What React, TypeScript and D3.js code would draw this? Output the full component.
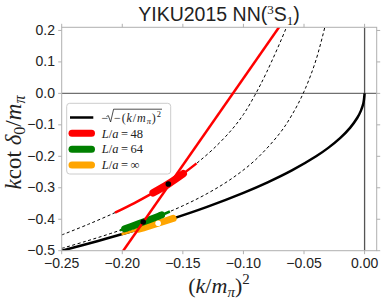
import * as d3 from "d3";

// axis ticks
const xTicks = [-0.25, -0.2, -0.15, -0.1, -0.05, 0];
const xTickLabels = ["−0.25", "−0.20", "−0.15", "−0.10", "−0.05", "0.00"];
const yTicks = [0.2, 0.1, 0, -0.1, -0.2, -0.3, -0.4, -0.5];
const yTickLabels = ["0.2", "0.1", "0.0", "−0.1", "−0.2", "−0.3", "−0.4", "−0.5"];

// -sqrt(-(k/m)^2), infinite volume
const infK2 = [-0.25, -0.22, -0.19, -0.16, -0.13, -0.1, -0.08, -0.06, -0.04, -0.03, -0.02, -0.012, -0.006, -0.003, -0.001, 0];
const infKcot = [-0.5, -0.469, -0.436, -0.4, -0.3606, -0.3162, -0.2828, -0.2449, -0.2, -0.1732, -0.1414, -0.1095, -0.0775, -0.0548, -0.0316, 0];

// dashed finite volume curves
const l48K2 = [-0.25, -0.228, -0.206, -0.19, -0.175, -0.162, -0.15, -0.1387, -0.125, -0.11, -0.1, -0.0906, -0.081, -0.0645, -0.058];
const l48Kcot = [-0.45, -0.416, -0.379, -0.3486, -0.317, -0.288, -0.256, -0.2225, -0.177, -0.117, -0.067, -0.006, 0.066, 0.21, 0.28];
const l64K2 = [-0.25, -0.23, -0.21, -0.19, -0.17, -0.15, -0.13, -0.11, -0.09, -0.07, -0.06, -0.05, -0.04, -0.03];
const l64Kcot = [-0.4926, -0.47, -0.4458, -0.4194, -0.3902, -0.3572, -0.3186, -0.2717, -0.211, -0.1267, -0.0688, 0.0057, 0.1073, 0.2551];

// effective range fit line
const ereK2 = [-0.202, -0.068];
const ereKcot = [-0.5155, 0.2247];

// L/a = 48 segment
const red48K2 = [-0.206, -0.19, -0.175, -0.162, -0.15, -0.1387];
const red48Kcot = [-0.379, -0.3486, -0.317, -0.288, -0.256, -0.2225];
const red48BandK2 = [-0.1745, -0.162, -0.1497];
const red48BandKcot = [-0.316, -0.288, -0.2555];
const red48Dot = [-0.162, -0.288];

// L/a = 64 segment
const green64K2 = [-0.2019, -0.19, -0.1827, -0.17, -0.1607];
const green64Kcot = [-0.4354, -0.4194, -0.409, -0.3902, -0.3754];
const green64BandK2 = [-0.198, -0.19, -0.1827, -0.17, -0.1676];
const green64BandKcot = [-0.4303, -0.4194, -0.409, -0.3902, -0.3865];
const green64Dot = [-0.1827, -0.409];

// L/a = inf segment
const orangeK2 = [-0.2006, -0.19, -0.18, -0.17, -0.1566];
const orangeKcot = [-0.4479, -0.4359, -0.4243, -0.4123, -0.3957];
const orangeBandK2 = [-0.1865, -0.18, -0.1704, -0.158];
const orangeBandKcot = [-0.4319, -0.4243, -0.4128, -0.3975];
const orangeDot = [-0.1704, -0.4128];

const W = 382;
const H = 301;
const left = 61.7;
const right = 376.7;
const top = 27.3;
const bottom = 250.7;

const x = d3.scaleLinear().domain([-0.25, 0.01]).range([left, right]);
const y = d3.scaleLinear().domain([-0.5, 0.21]).range([bottom, top]);

const pts = (xs: number[], ys: number[]) => xs.map((v, i) => [v, ys[i]] as [number, number]);
const curve = d3
  .line<[number, number]>()
  .x(d => x(d[0]))
  .y(d => y(d[1]))
  .curve(d3.curveCatmullRom);
const straight = d3
  .line<[number, number]>()
  .x(d => x(d[0]))
  .y(d => y(d[1]));

const spine = "#b0b0b0";
const textCol = "#222";
const serif = "'Liberation Serif', serif";
const sans = "'Liberation Sans', Arial, sans-serif";

const legendRows = [
  { color: "#ff0000", label: "48" },
  { color: "#008000", label: "64" },
  { color: "#ffa500", label: "∞" },
];

export default function App() {
  return (
    <svg width={W} height={H} style={{ position: "absolute", left: 0, top: 0 }} fontFamily={sans}>
      <defs>
        <clipPath id="plot">
          <rect x={left} y={top} width={right - left} height={bottom - top} />
        </clipPath>
      </defs>
      <rect width={W} height={H} fill="#fff" />

      {/* title */}
      <text x={219} y={21} textAnchor="middle" fontSize={19.5} fill={textCol}>
        YIKU2015 NN(
        <tspan fontSize={13} dy={-7} fontFamily={serif}>3</tspan>
        <tspan dy={7}>S</tspan>
        <tspan fontSize={13} dy={4} fontFamily={serif}>1</tspan>
        <tspan dy={-4}>)</tspan>
      </text>

      <g clipPath="url(#plot)">
        <line x1={left} x2={right} y1={y(0)} y2={y(0)} stroke="#707070" strokeWidth={1.4} />
        <line x1={x(0)} x2={x(0)} y1={top} y2={bottom} stroke="#555" strokeWidth={1.3} />

        <path d={curve(pts(l48K2, l48Kcot)) ?? ""} fill="none" stroke="#000" strokeWidth={1} strokeDasharray="3,2.5" />
        <path d={curve(pts(l64K2, l64Kcot)) ?? ""} fill="none" stroke="#000" strokeWidth={1} strokeDasharray="3,2.5" />
        <path d={curve(pts(infK2, infKcot)) ?? ""} fill="none" stroke="#000" strokeWidth={2.5} />

        <path d={curve(pts(orangeK2, orangeKcot)) ?? ""} fill="none" stroke="#ffa500" strokeWidth={2.5} />
        <path d={curve(pts(orangeBandK2, orangeBandKcot)) ?? ""} fill="none" stroke="#ffa500" strokeWidth={7} strokeLinecap="round" />
        <path d={curve(pts(green64K2, green64Kcot)) ?? ""} fill="none" stroke="#008000" strokeWidth={2.5} />
        <path d={curve(pts(green64BandK2, green64BandKcot)) ?? ""} fill="none" stroke="#008000" strokeWidth={7} strokeLinecap="round" />
        <path d={curve(pts(red48K2, red48Kcot)) ?? ""} fill="none" stroke="#ff0000" strokeWidth={2.5} />
        <path d={curve(pts(red48BandK2, red48BandKcot)) ?? ""} fill="none" stroke="#ff0000" strokeWidth={7.5} strokeLinecap="round" />
        <path d={straight(pts(ereK2, ereKcot)) ?? ""} fill="none" stroke="#ff0000" strokeWidth={2.5} />

        <circle cx={x(red48Dot[0])} cy={y(red48Dot[1])} r={2.8} fill="#000" />
        <circle cx={x(green64Dot[0])} cy={y(green64Dot[1])} r={2.8} fill="#000" />
        <circle cx={x(orangeDot[0])} cy={y(orangeDot[1])} r={2.8} fill="#fff" />
      </g>

      {/* spines */}
      <rect x={left} y={top} width={right - left} height={bottom - top} fill="none" stroke={spine} strokeWidth={1} />

      {/* ticks */}
      {xTicks.map((t, i) => (
        <g key={"x" + i}>
          <line x1={x(t)} x2={x(t)} y1={bottom} y2={bottom + 3.5} stroke={spine} />
          <line x1={x(t)} x2={x(t)} y1={top} y2={top - 3.5} stroke={spine} />
          <text x={x(t)} y={267.5} textAnchor="middle" fontSize={14} fill={textCol}>
            {xTickLabels[i]}
          </text>
        </g>
      ))}
      {yTicks.map((t, i) => (
        <g key={"y" + i}>
          <line x1={left} x2={left - 3.5} y1={y(t)} y2={y(t)} stroke={spine} />
          <line x1={right} x2={right + 3.5} y1={y(t)} y2={y(t)} stroke={spine} />
          <text x={55} y={y(t) + 4.5} textAnchor="end" fontSize={14} fill={textCol}>
            {yTickLabels[i]}
          </text>
        </g>
      ))}

      {/* axis labels */}
      <text x={219} y={293} textAnchor="middle" fontSize={22} fontFamily={serif} fill={textCol}>
        (<tspan fontStyle="italic">k</tspan>/<tspan fontStyle="italic">m</tspan>
        <tspan fontSize={15} fontStyle="italic" dy={4}>π</tspan>
        <tspan dy={-4}>)</tspan>
        <tspan fontSize={15} dy={-9}>2</tspan>
      </text>
      <text transform="translate(21,142.5) rotate(-90)" textAnchor="middle" fontSize={23} fontFamily={serif} fill={textCol}>
        <tspan fontStyle="italic">k</tspan>cot <tspan fontStyle="italic">δ</tspan>
        <tspan fontSize={16} dy={4}>0</tspan>
        <tspan dy={-4}>/</tspan>
        <tspan fontStyle="italic">m</tspan>
        <tspan fontSize={16} fontStyle="italic" dy={4}>π</tspan>
      </text>

      {/* legend */}
      <rect x={66.7} y={103.3} width={104} height={70.7} rx={3} fill="#fff" fillOpacity={0.8} stroke="#cccccc" />
      <line x1={70} x2={93.3} y1={117.5} y2={117.5} stroke="#000" strokeWidth={2.5} />
      <text x={101.5} y={121.5} fontSize={12} fontFamily={serif} fill={textCol}>−</text>
      <path d="M106.5,116.5 L108.3,115.6 L110.6,122 L113.6,109.2 L162,109.2" fill="none" stroke={textCol} strokeWidth={0.8} />
      <text x={114} y={121.5} fontSize={12} fontFamily={serif} fill={textCol} textLength={47} lengthAdjust="spacing">
        −(<tspan fontStyle="italic">k</tspan>/<tspan fontStyle="italic">m</tspan>
        <tspan fontSize={8.5} fontStyle="italic" dy={2.5}>π</tspan>
        <tspan dy={-2.5}>)</tspan>
        <tspan fontSize={8.5} dy={-5}>2</tspan>
      </text>
      {legendRows.map((r, i) => (
        <g key={r.label}>
          <line x1={72} x2={91.5} y1={133.3 + i * 15.9} y2={133.3 + i * 15.9} stroke={r.color} strokeWidth={7} strokeLinecap="round" />
          <text x={101.7} y={137.5 + i * 15.9} fontSize={12.5} fontFamily={serif} fill={textCol}>
            <tspan fontStyle="italic">L</tspan>/<tspan fontStyle="italic">a</tspan>{"\u2009=\u2009"}{r.label}
          </text>
        </g>
      ))}
    </svg>
  );
}
